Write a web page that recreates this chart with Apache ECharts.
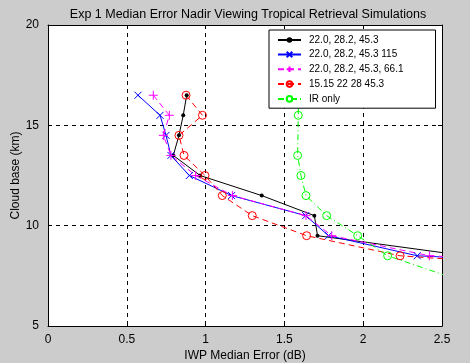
<!DOCTYPE html>
<html>
<head>
<meta charset="utf-8">
<script src="https://cdn.jsdelivr.net/npm/echarts@6/dist/echarts.min.js"></script>
<style>
html,body{margin:0;padding:0;background:#cccccc;}
#c{width:470px;height:363px;}
</style>
</head>
<body>
<div id="c"></div>
<script>
// ---- data ----
const seriesNames = ['22.0, 28.2, 45.3', '22.0, 28.2, 45.3 115', '22.0, 28.2, 45.3, 66.1', '15.15 22 28 45.3', 'IR only'];
const cloudBase = [16.5, 15.5, 14.5, 13.5, 12.5, 11.5, 10.5, 9.5, 8.5, 7.5];
const xBlack   = [0.880, 0.858, 0.831, 0.795, 0.965, 1.356, 1.690, 1.710, 2.650];
const xBlue    = [0.571, 0.711, 0.749, 0.780, 0.897, 1.165, 1.635, 1.780, 2.343, 4.90];
const xMagenta = [0.668, 0.770, 0.732, 0.780, 0.937, 1.170, 1.637, 1.800, 2.420, 5.00];
const xRed     = [0.876, 0.980, 0.831, 0.863, 0.996, 1.106, 1.296, 1.641, 2.234, 4.08];
const greenBase = [16.5, 15.5, 13.5, 12.5, 11.5, 10.5, 9.5, 8.5, 7.5];
const xGreen   = [1.590, 1.588, 1.584, 1.605, 1.637, 1.768, 1.965, 2.155, 2.530];
const xTicks = [0, 0.5, 1, 1.5, 2, 2.5];
const yTicks = [5, 10, 15, 20];

function pairs(xs, ys) { return xs.map((x, i) => [x, ys[i]]); }

const FONT = 'Liberation Sans, Arial, Helvetica, sans-serif';
const plusPath = 'path://M5,0L5,10M0,5L10,5';
const crossPath = 'path://M0,0L10,10M10,0L0,10';

const chart = echarts.init(document.getElementById('c'), null, {renderer: 'canvas'});
const option = {
  backgroundColor: '#cccccc',
  animation: false,
  title: {
    text: 'Exp 1 Median Error Nadir Viewing Tropical Retrieval Simulations',
    left: 243, top: 3, textAlign: 'center',
    textStyle: {fontFamily: FONT, fontSize: 12.5, fontWeight: 'normal', color: '#000'}
  },
  grid: {left: 48, top: 25, right: 28, bottom: 37, show: true, backgroundColor: '#ffffff',
    borderWidth: 0, containLabel: false, outerBoundsMode: 'none'},
  legend: {
    orient: 'vertical', left: 269, top: 30, z: 10,
    padding: [5, 32, 4, 8],
    backgroundColor: '#ffffff', borderColor: '#000000', borderWidth: 1,
    itemWidth: 23, itemHeight: 7, itemGap: 4.2,
    data: seriesNames,
    textStyle: {fontFamily: FONT, fontSize: 10, lineHeight: 10, color: '#000', padding: [0, 0, 0, 3]},
    inactiveColor: '#000'
  },
  xAxis: [{
    type: 'value', min: 0, max: 2.5, interval: 0.5, position: 'bottom',
    name: 'IWP Median Error (dB)', nameLocation: 'middle', nameGap: 24, nameMoveOverlap: false,
    nameTextStyle: {fontFamily: FONT, fontSize: 12, color: '#000'},
    axisLine: {show: true, onZero: false, lineStyle: {color: '#000', width: 1}},
    axisTick: {show: true, inside: true, length: 4, lineStyle: {color: '#000'}},
    axisLabel: {fontFamily: FONT, fontSize: 12, color: '#000', margin: 8,
      formatter: v => String(v)},
    splitLine: {show: true, lineStyle: {color: '#000', type: [4, 4], width: 1}}
  }, {
    type: 'value', min: 0, max: 2.5, interval: 0.5, position: 'top',
    axisLine: {show: true, onZero: false, lineStyle: {color: '#000', width: 1}},
    axisTick: {show: true, inside: true, length: 4, lineStyle: {color: '#000'}},
    axisLabel: {show: false}, splitLine: {show: false}
  }],
  yAxis: [{
    type: 'value', min: 5, max: 20, interval: 5, position: 'left',
    name: 'Cloud base (km)', nameLocation: 'middle', nameGap: 26, nameRotate: 90, nameMoveOverlap: false,
    nameTextStyle: {fontFamily: FONT, fontSize: 12, color: '#000'},
    axisLine: {show: true, onZero: false, lineStyle: {color: '#000', width: 1}},
    axisTick: {show: true, inside: true, length: 4, lineStyle: {color: '#000'}},
    axisLabel: {fontFamily: FONT, fontSize: 12, color: '#000', margin: 9, padding: [0, 0, 8, 0]},
    splitLine: {show: true, lineStyle: {color: '#000', type: [4, 4], width: 1}}
  }, {
    type: 'value', min: 5, max: 20, interval: 5, position: 'right',
    axisLine: {show: true, onZero: false, lineStyle: {color: '#000', width: 1}},
    axisTick: {show: true, inside: true, length: 4, lineStyle: {color: '#000'}},
    axisLabel: {show: false}, splitLine: {show: false}
  }],
  series: [
    {
      name: seriesNames[0], type: 'line', data: pairs(xBlack, cloudBase), clip: true,
      symbol: 'circle', symbolSize: 4, showAllSymbol: true,
      lineStyle: {color: '#000000', width: 1}, itemStyle: {color: '#000000'}
    },
    {
      name: seriesNames[1], type: 'line', data: pairs(xBlue, cloudBase), clip: true,
      symbol: crossPath, symbolSize: 7, showAllSymbol: true,
      lineStyle: {color: '#0000ff', width: 1},
      itemStyle: {color: 'none', borderColor: '#0000ff', borderWidth: 1}
    },
    {
      name: seriesNames[2], type: 'line', data: pairs(xMagenta, cloudBase), clip: true,
      symbol: plusPath, symbolSize: 9, showAllSymbol: true,
      lineStyle: {color: '#ff00ff', width: 1, type: [6, 4]},
      itemStyle: {color: 'none', borderColor: '#ff00ff', borderWidth: 1}
    },
    {
      name: seriesNames[3], type: 'line', data: pairs(xRed, cloudBase), clip: true,
      symbol: 'circle', symbolSize: 8, showAllSymbol: true,
      lineStyle: {color: '#ff0000', width: 1, type: [6, 4]},
      itemStyle: {color: 'none', borderColor: '#ff0000', borderWidth: 1}
    },
    {
      name: seriesNames[4], type: 'line', data: pairs(xGreen, greenBase), clip: true,
      symbol: 'circle', symbolSize: 8, showAllSymbol: true,
      lineStyle: {color: '#00ff00', width: 1, type: [6, 3, 1, 3]},
      itemStyle: {color: 'none', borderColor: '#00ff00', borderWidth: 1}
    }
  ]
};
chart.setOption(option);
</script>
</body>
</html>
